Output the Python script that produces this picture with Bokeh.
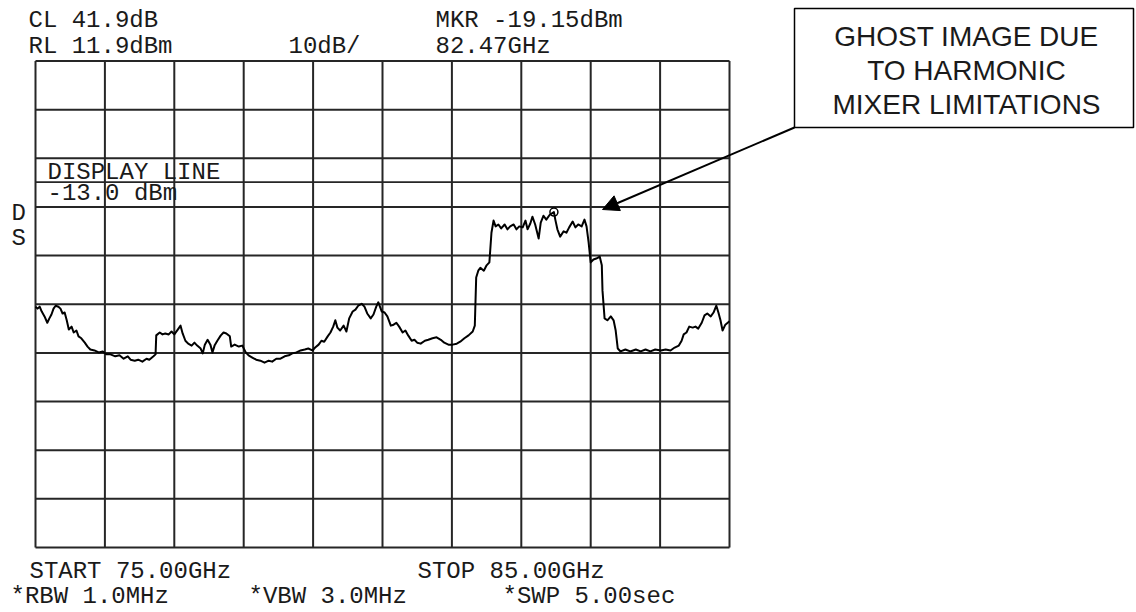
from bokeh.plotting import figure
from bokeh.models import Range1d, Label, BoxAnnotation, Arrow, NormalHead
from bokeh.embed import file_html
from bokeh.resources import INLINE

# ---------------- data ----------------
START_GHZ = 75.0
STOP_GHZ = 85.0
RL_DBM = 11.9
DB_PER_DIV = 10.0
N_DIV = 10
DISPLAY_LINE_DBM = -13.0
MARKER_GHZ = 82.47
MARKER_DBM = -19.15

freq_ghz = [
    75.00, 75.03, 75.06, 75.09, 75.13, 75.17, 75.20, 75.23, 75.26, 75.29,
    75.33, 75.36, 75.39, 75.42, 75.45, 75.48, 75.52, 75.55, 75.59, 75.62,
    75.66, 75.71, 75.75, 75.79, 75.85, 75.91, 75.97, 76.02, 76.08, 76.15,
    76.21, 76.27, 76.33, 76.37, 76.43, 76.48, 76.54, 76.60, 76.64, 76.70,
    76.73, 76.74, 76.79, 76.83, 76.87, 76.92, 76.96, 77.00, 77.05, 77.09,
    77.12, 77.16, 77.20, 77.25, 77.29, 77.33, 77.38, 77.41, 77.44, 77.48,
    77.52, 77.55, 77.58, 77.62, 77.67, 77.71, 77.75, 77.80, 77.82, 77.87,
    77.93, 77.98, 78.03, 78.07, 78.13, 78.18, 78.24, 78.30, 78.36, 78.41,
    78.47, 78.53, 78.59, 78.65, 78.70, 78.76, 78.82, 78.88, 78.93, 78.99,
    79.03, 79.08, 79.12, 79.16, 79.21, 79.25, 79.29, 79.32, 79.35, 79.39,
    79.44, 79.48, 79.52, 79.57, 79.61, 79.65, 79.70, 79.74, 79.78, 79.83,
    79.87, 79.91, 79.94, 79.99, 80.03, 80.07, 80.12, 80.16, 80.20, 80.24,
    80.29, 80.33, 80.37, 80.42, 80.46, 80.50, 80.55, 80.61, 80.66, 80.72,
    80.78, 80.84, 80.89, 80.95, 81.01, 81.07, 81.12, 81.18, 81.24, 81.30,
    81.33, 81.35, 81.38, 81.41, 81.46, 81.50, 81.54, 81.57, 81.60, 81.63,
    81.67, 81.71, 81.76, 81.80, 81.84, 81.89, 81.93, 81.97, 82.02, 82.06,
    82.09, 82.13, 82.16, 82.20, 82.25, 82.28, 82.32, 82.36, 82.41, 82.47,
    82.49, 82.52, 82.56, 82.61, 82.65, 82.69, 82.74, 82.78, 82.82, 82.87,
    82.91, 82.94, 82.97, 83.00, 83.04, 83.08, 83.13, 83.16, 83.17, 83.20,
    83.24, 83.29, 83.33, 83.36, 83.39, 83.43, 83.50, 83.57, 83.65, 83.72,
    83.79, 83.86, 83.93, 84.01, 84.08, 84.15, 84.21, 84.27, 84.31, 84.34,
    84.38, 84.42, 84.47, 84.51, 84.55, 84.60, 84.64, 84.68, 84.73, 84.77,
    84.81, 84.84, 84.87, 84.90, 84.94, 85.00,
]

level_dbm = [
    -38.6, -39.0, -38.6, -39.6, -40.6, -41.9, -41.0, -40.2, -39.0, -38.4,
    -38.6, -39.0, -40.0, -39.8, -41.4, -43.3, -42.7, -43.9, -43.5, -44.7,
    -45.1, -46.0, -46.8, -47.4, -47.6, -48.0, -47.8, -48.4, -48.4, -48.8,
    -48.6, -49.3, -48.8, -49.5, -49.7, -49.5, -49.9, -49.3, -49.5, -48.8,
    -48.4, -44.5, -43.9, -44.3, -44.1, -44.3, -43.7, -44.3, -43.3, -42.5,
    -44.1, -45.6, -46.2, -46.6, -46.0, -46.6, -47.2, -48.2, -46.4, -45.4,
    -46.4, -48.0, -46.6, -45.6, -44.5, -43.9, -44.1, -44.7, -46.8, -46.4,
    -46.8, -46.6, -48.0, -48.6, -49.1, -49.5, -49.7, -50.1, -49.7, -49.9,
    -49.3, -49.3, -48.8, -48.6, -48.2, -48.0, -47.6, -47.4, -47.2, -47.6,
    -47.0, -46.4, -45.6, -45.8, -44.7, -43.9, -42.7, -41.4, -42.9, -43.5,
    -42.5, -43.7, -41.0, -39.6, -39.2, -38.4, -38.0, -38.6, -40.0, -41.0,
    -40.2, -38.6, -37.7, -39.6, -39.8, -40.6, -42.5, -42.3, -41.9, -42.7,
    -43.9, -43.5, -44.5, -45.6, -45.4, -46.0, -46.2, -45.6, -45.4, -45.1,
    -44.9, -45.4, -46.0, -46.4, -46.4, -46.2, -45.8, -45.1, -44.5, -43.7,
    -42.5, -32.6, -31.2, -30.6, -31.2, -30.1, -29.5, -23.4, -20.9, -22.1,
    -21.7, -22.5, -21.7, -22.7, -22.1, -21.7, -22.7, -22.1, -22.3, -20.9,
    -22.7, -21.5, -20.1, -21.7, -24.6, -21.3, -19.9, -20.7, -19.7, -19.15,
    -20.7, -22.7, -24.2, -23.1, -23.4, -22.3, -21.1, -22.3, -21.7, -22.1,
    -20.7, -22.1, -25.4, -29.5, -28.9, -28.7, -28.3, -30.1, -35.3, -41.0,
    -41.4, -40.6, -41.4, -43.5, -47.2, -47.8, -47.4, -47.8, -47.4, -47.8,
    -47.4, -47.8, -47.4, -47.6, -47.4, -47.6, -47.0, -46.6, -45.6, -44.3,
    -43.9, -42.7, -42.9, -42.7, -43.1, -41.9, -40.4, -40.0, -40.6, -39.8,
    -38.4, -39.8, -41.4, -43.5, -42.3, -41.6,
]

header_texts = ["CL 41.9dB", "RL 11.9dBm", "10dB/", "MKR -19.15dBm", "82.47GHz"]
footer_texts = ["START 75.00GHz", "STOP 85.00GHz", "*RBW 1.0MHz", "*VBW 3.0MHz", "*SWP 5.00sec"]
side_texts = ["D", "S"]
display_line_texts = ["DISPLAY LINE", "-13.0 dBm"]
callout_lines = ["GHOST IMAGE DUE", "TO HARMONIC", "MIXER LIMITATIONS"]

# ---------------- layout ----------------
W, H = 1136, 612
GRID_LEFT, GRID_RIGHT = 35.0, 729.0      # px from canvas left
GRID_TOP, GRID_BOTTOM = 60.5, 547.0      # px from canvas top

ppg = (GRID_RIGHT - GRID_LEFT) / (STOP_GHZ - START_GHZ)
ppd = (GRID_BOTTOM - GRID_TOP) / (N_DIV * DB_PER_DIV)
bottom_level = RL_DBM - N_DIV * DB_PER_DIV

x_range = Range1d(START_GHZ - GRID_LEFT / ppg, START_GHZ + (W - GRID_LEFT) / ppg)
y_range = Range1d(bottom_level - (H - GRID_BOTTOM) / ppd, RL_DBM + GRID_TOP / ppd)

p = figure(width=W, height=H, x_range=x_range, y_range=y_range,
           output_backend="svg", toolbar_location=None, title=None,
           x_axis_location=None, y_axis_location=None, min_border=0)
p.xgrid.visible = False
p.ygrid.visible = False
p.outline_line_color = None
p.background_fill_color = "white"
p.border_fill_color = "white"

GRID_COLOR = "#262626"

# graticule
xs = [START_GHZ + i * (STOP_GHZ - START_GHZ) / N_DIV for i in range(N_DIV + 1)]
ys = [RL_DBM - i * DB_PER_DIV for i in range(N_DIV + 1)]
p.segment(x0=xs, y0=[bottom_level] * len(xs), x1=xs, y1=[RL_DBM] * len(xs),
          line_color=GRID_COLOR, line_width=2)
p.segment(x0=[START_GHZ] * len(ys), y0=ys, x1=[STOP_GHZ] * len(ys), y1=ys,
          line_color=GRID_COLOR, line_width=2)
# display line
p.segment(x0=[START_GHZ], y0=[DISPLAY_LINE_DBM], x1=[STOP_GHZ], y1=[DISPLAY_LINE_DBM],
          line_color=GRID_COLOR, line_width=1.6)

# trace
p.line(freq_ghz, level_dbm, line_color="black", line_width=2, line_join="round")

# marker
p.scatter([MARKER_GHZ], [MARKER_DBM], marker="circle", size=8,
          fill_color=None, line_color="black", line_width=1.5)

# ---------------- texts ----------------
MONO = "Liberation Mono"
TXT = "#1a1a1a"


def lab(x, y_from_top, text, size="24px", font=MONO, align="left"):
    p.add_layout(Label(x=x, y=H - y_from_top, x_units="screen", y_units="screen",
                       text=text, text_font=font, text_font_size=size,
                       text_color=TXT, text_baseline="alphabetic", text_align=align))


# header
lab(28, 20, header_texts[0])
lab(28, 46, header_texts[1])
lab(288, 46, header_texts[2])
lab(435, 20, header_texts[3])
lab(435, 46, header_texts[4])
# footer
lab(29, 571, footer_texts[0])
lab(417, 571, footer_texts[1])
lab(10, 596, footer_texts[2])
lab(248, 596, footer_texts[3])
lab(502, 596, footer_texts[4])
# side
lab(11, 213, side_texts[0])
lab(11, 238, side_texts[1])
# display line label
lab(47, 172, display_line_texts[0])
lab(47, 193, display_line_texts[1])

# callout box
BOX_L, BOX_R, BOX_T, BOX_B = 794, 1133, 8, 127
p.add_layout(BoxAnnotation(left=BOX_L, right=BOX_R, top=H - BOX_T, bottom=H - BOX_B,
                           left_units="screen", right_units="screen",
                           top_units="screen", bottom_units="screen",
                           fill_alpha=0, fill_color=None,
                           line_color="black", line_alpha=1.0, line_width=1.5,
                           level="overlay"))
for i, t in enumerate(callout_lines):
    lab(966, 36 + 34 * i, t, size="28px", font="Liberation Sans", align="center")

# arrow
p.add_layout(Arrow(end=NormalHead(size=16, fill_color="black", line_color="black"),
                   x_start=BOX_L, y_start=H - BOX_B, x_end=602, y_end=H - 209,
                   start_units="screen", end_units="screen",
                   line_color="black", line_width=2))

open("out.html", "w").write(file_html(p, INLINE))
